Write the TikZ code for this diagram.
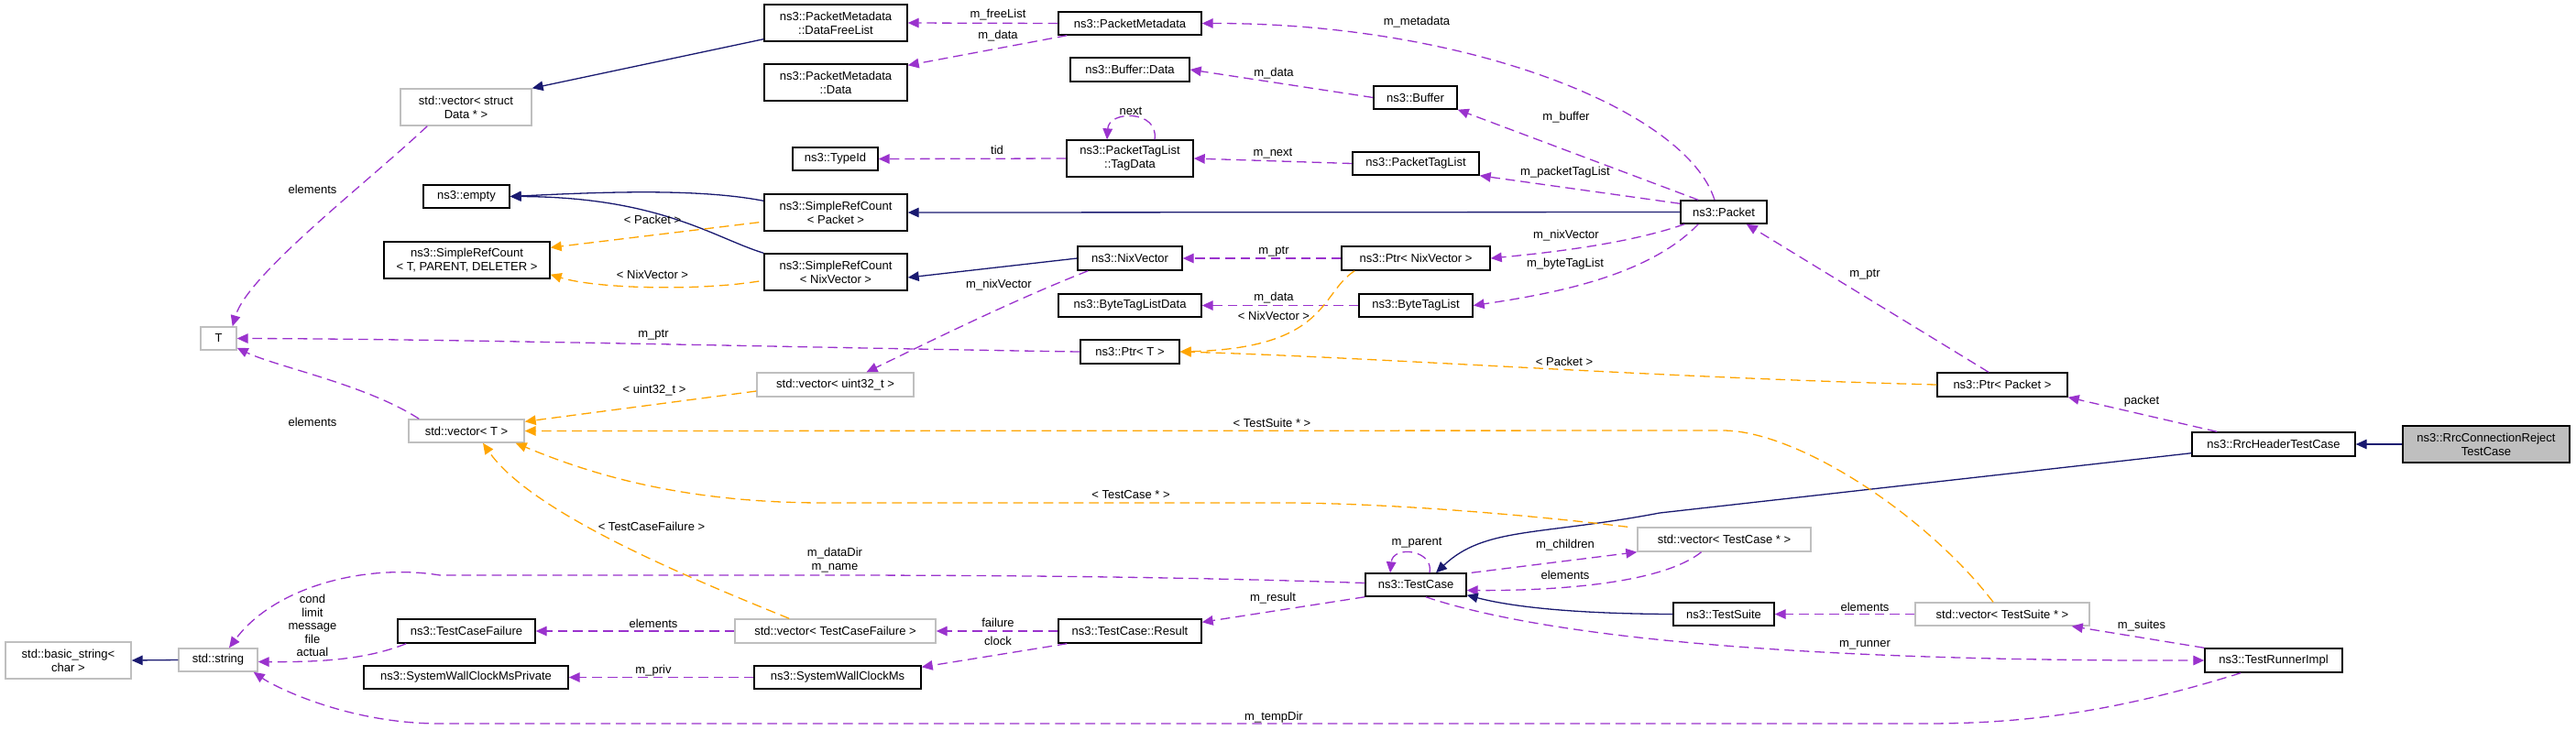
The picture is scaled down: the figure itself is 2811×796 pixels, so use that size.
\documentclass[tikz,border=0pt]{standalone}
\usepackage{fontspec}
\setmainfont{Liberation Sans}
\usetikzlibrary{arrows.meta,calc}
\definecolor{pur}{HTML}{9A32CD}
\definecolor{org}{HTML}{FFA500}
\definecolor{nav}{HTML}{191970}
\definecolor{gbd}{HTML}{BFBFBF}
\newcommand\bx[7]{\node[#1, minimum width={(#5-#3)*0.2845pt}, minimum height={(#6-#4)*0.2845pt}] (#2) at ({(#3+#5)/2},{(#4+#6)/2}) {#7};}
\begin{document}
\begin{tikzpicture}[x=0.01cm,y=-0.01cm,
  every node/.style={font=\fontsize{3.7}{4.3}\selectfont, inner sep=0pt, align=center},
  bk/.style={draw=black, line width=0.4pt, fill=white},
  gy/.style={draw=gbd, line width=0.4pt, fill=white},
  hl/.style={draw=black, line width=0.4pt, fill=gbd},
  lbl/.style={fill=none},
  base/.style={line width=0.37pt, -{Triangle[length=3.4pt,width=3pt]}},
  pe/.style={base, draw=pur, dash pattern=on 3pt off 1.7pt, arrows={-{Triangle[length=3.4pt,width=3pt,fill=pur]}}},
  oe/.style={base, draw=org, dash pattern=on 3pt off 1.7pt, arrows={-{Triangle[length=3.4pt,width=3pt,fill=org]}}},
  ne/.style={base, draw=nav, arrows={-{Triangle[length=3.4pt,width=3pt,fill=nav]}}}]
\useasboundingbox (0,0) rectangle (2811,796);
\bx{bk}{dfl}{834}{5}{990}{45}{ns3::PacketMetadata\\::DataFreeList}
\bx{bk}{pmd}{834}{70}{990}{110}{ns3::PacketMetadata\\::Data}
\bx{bk}{pm}{1155}{13}{1311}{38}{ns3::PacketMetadata}
\bx{gy}{vsd}{437}{97}{580}{137}{std::vector< struct\\Data * >}
\bx{bk}{tid}{865}{161}{958}{186}{ns3::TypeId}
\bx{bk}{emp}{462}{202}{556}{227}{ns3::empty}
\bx{bk}{srcp}{834}{212}{990}{252}{ns3::SimpleRefCount\\< Packet >}
\bx{bk}{srct}{419}{264}{600}{304}{ns3::SimpleRefCount\\< T, PARENT, DELETER >}
\bx{bk}{srcn}{834}{277}{990}{317}{ns3::SimpleRefCount\\< NixVector >}
\bx{gy}{T}{219}{357}{258}{382}{T}
\bx{bk}{bd}{1168}{63}{1298}{89}{ns3::Buffer::Data}
\bx{bk}{buf}{1499}{94}{1590}{119}{ns3::Buffer}
\bx{bk}{tagd}{1164}{153}{1302}{193}{ns3::PacketTagList\\::TagData}
\bx{bk}{ptl}{1476}{166}{1614}{191}{ns3::PacketTagList}
\bx{bk}{pkt}{1834}{219}{1928}{244}{ns3::Packet}
\bx{bk}{nix}{1176}{269}{1290}{295}{ns3::NixVector}
\bx{bk}{pnix}{1464}{269}{1626}{295}{ns3::Ptr< NixVector >}
\bx{bk}{btld}{1155}{321}{1311}{346}{ns3::ByteTagListData}
\bx{bk}{btl}{1483}{321}{1607}{346}{ns3::ByteTagList}
\bx{bk}{ptrt}{1179}{371}{1287}{397}{ns3::Ptr< T >}
\bx{gy}{vu32}{826}{407}{997}{433}{std::vector< uint32\_t >}
\bx{gy}{vt}{446}{458}{572}{483}{std::vector< T >}
\bx{bk}{pp}{2114}{407}{2256}{433}{ns3::Ptr< Packet >}
\bx{bk}{rhtc}{2392}{472}{2570}{498}{ns3::RrcHeaderTestCase}
\bx{hl}{rcr}{2622}{465}{2804}{505}{ns3::RrcConnectionReject\\TestCase}
\bx{gy}{bs}{6}{701}{143}{741}{std::basic\_string<\\char >}
\bx{gy}{str}{195}{708}{281}{733}{std::string}
\bx{bk}{tcf}{434}{676}{584}{702}{ns3::TestCaseFailure}
\bx{gy}{vtcf}{802}{676}{1021}{702}{std::vector< TestCaseFailure >}
\bx{bk}{swp}{397}{727}{620}{752}{ns3::SystemWallClockMsPrivate}
\bx{bk}{sw}{823}{727}{1005}{752}{ns3::SystemWallClockMs}
\bx{bk}{tc}{1490}{626}{1600}{651}{ns3::TestCase}
\bx{gy}{vtc}{1787}{576}{1976}{602}{std::vector< TestCase * >}
\bx{bk}{res}{1155}{676}{1311}{702}{ns3::TestCase::Result}
\bx{bk}{ts}{1826}{658}{1936}{683}{ns3::TestSuite}
\bx{gy}{vts}{2090}{658}{2280}{683}{std::vector< TestSuite * >}
\bx{bk}{tri}{2406}{708}{2556}{734}{ns3::TestRunnerImpl}
% edges
\draw[ne] ($(dfl.south west)+(0,-3)$) -- (vsd.north east);
\draw[pe] (pm.west) -- (dfl.east);
\draw[pe] ($(pm.south west)+(10,0)$) -- ($(pmd.north east)+(0,2)$);
\draw[pe] ($(vsd.south west)+(30,0)$) .. controls (400,200) and (270,300) .. ($(T.north east)+(-5,0)$);
\draw[pe] ($(pkt.north)+(-10,0)$) .. controls (1840,120) and (1600,25) .. (pm.east);
\draw[pe] (buf.west) -- (bd.east);
\draw[pe] ($(pkt.north west)+(20,0)$) -- (buf.south east);
\draw[pe] ($(tagd.north)+(27,0)$) .. controls (1265,120) and (1210,120) .. ($(tagd.north)+(-25,0)$);
\draw[pe] (tagd.west) -- (tid.east);
\draw[pe] (ptl.west) -- (tagd.east);
\draw[pe] ($(pkt.north west)+(0,4)$) -- (ptl.south east);
\draw[ne] (pkt.west) -- (srcp.east);
\draw[ne] ($(srcp.north west)+(0,8)$) .. controls (760,205) and (650,210) .. (emp.east);
\draw[ne] (srcn.north west) .. controls (780,260) and (720,215) .. (emp.east);
\draw[oe] ($(srcp.south west)+(-5,-10)$) -- ($(srct.north east)+(0,7)$);
\draw[oe] ($(srcn.west)+(-5,10)$) .. controls (760,318) and (650,315) .. ($(srct.south east)+(0,-5)$);
\draw[ne] (nix.west) -- ($(srcn.east)+(0,6)$);
\draw[pe] (pnix.west) -- (nix.east);
\draw[pe] ($(pkt.south west)+(5,0)$) .. controls (1780,265) and (1700,275) .. (pnix.east);
\draw[pe] ($(pkt.south west)+(20,0)$) .. controls (1800,300) and (1700,320) .. (btl.east);
\draw[pe] (btl.west) -- (btld.east);
\draw[oe] ($(pnix.south west)+(15,0)$) .. controls (1440,320) and (1450,380) .. (ptrt.east);
\draw[pe] ($(nix.south west)+(12,0)$) .. controls (1100,330) and (1000,380) .. ($(vu32.north)+(34,0)$);
\draw[pe] (ptrt.west) .. controls (900,380) and (500,370) .. (T.east);
\draw[oe] (pp.west) .. controls (1800,412) and (1500,390) .. (ptrt.east);
\draw[pe] ($(pp.north)+(-15,0)$) -- ($(pkt.south east)+(-23,0)$);
\draw[pe] ($(rhtc.north west)+(28,0)$) -- (pp.south east);
\draw[ne] (rcr.west) -- (rhtc.east);
\draw[ne] ($(rhtc.south west)+(0,-4)$) -- (1811,560) .. controls (1680,585) and (1620,575) .. ($(tc.north)+(22,0)$);
\draw[pe] ($(vt.north west)+(12,0)$) .. controls (400,420) and (300,400) .. ($(T.south east)+(0,-3)$);
\draw[oe] ($(vu32.west)+(0,7)$) -- ($(vt.north east)+(0,3)$);
\draw[oe] ($(vts.north)+(-10,0)$) .. controls (2100,560) and (1960,470) .. (1880,470) -- (vt.east);
\draw[oe] ($(vtc.north west)+(-10,0)$) .. controls (1650,560) and (1500,549) .. (1400,549) -- (900,549) .. controls (750,549) and (650,520) .. ($(vt.south east)+(-10,0)$);
\draw[oe] ($(vtcf.north west)+(60,0)$) .. controls (750,630) and (580,560) .. ($(vt.south)+(18,0)$);
\draw[pe] ($(tc.west)+(0,-2)$) .. controls (1300,630) and (1100,628) .. (900,628) -- (480,628) .. controls (400,615) and (300,640) .. ($(str.north)+(12,0)$);
\draw[pe] ($(tc.north)+(15,0)$) .. controls (1565,600) and (1520,595) .. ($(tc.north)+(-28,0)$);
\draw[pe] ($(tc.north east)+(5,0)$) -- (vtc.south west);
\draw[pe] ($(vtc.south)+(-25,0)$) .. controls (1810,640) and (1680,645) .. ($(tc.east)+(0,6)$);
\draw[pe] (tc.south west) -- ($(res.north east)+(0,4)$);
\draw[pe] (res.west) -- (vtcf.east);
\draw[pe] ($(res.south west)+(10,0)$) -- ($(sw.north east)+(0,2)$);
\draw[pe] (sw.west) -- (swp.east);
\draw[pe] (vtcf.west) -- (tcf.east);
\draw[pe] ($(tcf.south west)+(10,0)$) .. controls (400,720) and (350,723) .. ($(str.east)+(0,2)$);
\draw[ne] (str.west) -- (bs.east);
\draw[ne] (ts.west) .. controls (1700,670) and (1640,660) .. ($(tc.south east)+(0,-2)$);
\draw[pe] (vts.west) -- (ts.east);
\draw[pe] (tri.north west) -- ($(vts.south east)+(-20,0)$);
\draw[pe] ($(tc.south east)+(-45,0)$) .. controls (1700,700) and (2000,722) .. (tri.west);
\draw[pe] ($(tri.south west)+(40,0)$) .. controls (2300,780) and (2200,790) .. (2100,790) -- (480,790) .. controls (380,790) and (300,750) .. ($(str.south east)+(-5,0)$);
% labels
\node[lbl] (l1) at (341,207) {elements};
\node[lbl] (l2) at (712,240) {< Packet >};
\node[lbl] (l3) at (712,300) {< NixVector >};
\node[lbl] (l4) at (713,366) {m\_ptr};
\node[lbl] (l5) at (1089,16) {m\_freeList};
\node[lbl] (l6) at (1089,39) {m\_data};
\node[lbl] (l7) at (1546,24) {m\_metadata};
\node[lbl] (l8) at (1390,80) {m\_data};
\node[lbl] (l9) at (1709,128) {m\_buffer};
\node[lbl] (l10) at (1234,121) {next};
\node[lbl] (l11) at (1088,164) {tid};
\node[lbl] (l12) at (1389,168) {m\_next};
\node[lbl] (l13) at (1708,188) {m\_packetTagList};
\node[lbl] (l14) at (1709,257) {m\_nixVector};
\node[lbl] (l15) at (1390,275) {m\_ptr};
\node[lbl] (l16) at (1708,288) {m\_byteTagList};
\node[lbl] (l17) at (1090,311) {m\_nixVector};
\node[lbl] (l18) at (1390,325) {m\_data};
\node[lbl] (l19) at (1390,345) {< NixVector >};
\node[lbl] (l20) at (1707,395) {< Packet >};
\node[lbl] (l21) at (2035,300) {m\_ptr};
\node[lbl] (l22) at (2337,438) {packet};
\node[lbl] (l23) at (341,461) {elements};
\node[lbl] (l24) at (714,426) {< uint32\_t >};
\node[lbl] (l25) at (1388,462) {< TestSuite * >};
\node[lbl] (l26) at (1234,540) {< TestCase * >};
\node[lbl] (l27) at (711,575) {< TestCaseFailure >};
\node[lbl] (l28) at (911,612) {m\_dataDir\\m\_name};
\node[lbl] (l29) at (1546,593) {m\_parent};
\node[lbl] (l30) at (1708,595) {m\_children};
\node[lbl] (l31) at (1708,628) {elements};
\node[lbl] (l32) at (1389,653) {m\_result};
\node[lbl] (l33) at (1089,680) {failure};
\node[lbl] (l34) at (1089,700) {clock};
\node[lbl] (l35) at (713,681) {elements};
\node[lbl] (l36) at (713,732) {m\_priv};
\node[lbl, font=\fontsize{3.7}{4.1}\selectfont] (l37) at (341,683) {cond\\limit\\message\\file\\actual};
\node[lbl] (l38) at (2035,663) {elements};
\node[lbl] (l39) at (2337,683) {m\_suites};
\node[lbl] (l40) at (2035,704) {m\_runner};
\node[lbl] (l41) at (1390,783) {m\_tempDir};
\end{tikzpicture}
\end{document}
